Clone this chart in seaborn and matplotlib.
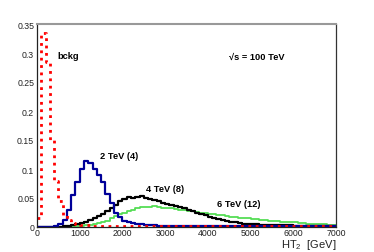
import numpy as np
import pandas as pd
import matplotlib
matplotlib.use("Agg")
import matplotlib.pyplot as plt
from matplotlib.ticker import MultipleLocator
import seaborn as sns

# ---- data (bin width 100 GeV, lower bin edges) ----
bin_edges = list(range(0, 7100, 100))
bckg = [0.015, 0.335, 0.285, 0.150, 0.080, 0.045, 0.020, 0.012, 0.007, 0.005,
        0.004, 0.003, 0.003, 0.002, 0.002, 0.002, 0.002, 0.001, 0.001, 0.001,
        0.001, 0.001, 0.001, 0.001, 0.001, 0.001, 0.001, 0.001, 0.001, 0.001,
        0.001, 0.001, 0.001, 0.001, 0.001, 0.001, 0.001, 0.001, 0.001, 0.001,
        0.001, 0.001, 0.001, 0.001, 0.001, 0.001, 0.001, 0.001, 0.001, 0.001,
        0.001, 0.001, 0.001, 0.001, 0.001, 0.001, 0.001, 0.001, 0.001, 0.001,
        0.001, 0.001, 0.001, 0.001, 0.001, 0.001, 0.001, 0.001, 0.001, 0.001]
tev2 = [0.000, 0.000, 0.000, 0.000, 0.001, 0.005, 0.012, 0.030, 0.055, 0.078,
        0.100, 0.113, 0.110, 0.100, 0.090, 0.077, 0.057, 0.042, 0.025, 0.017,
        0.011, 0.009, 0.007, 0.006, 0.005, 0.004, 0.003, 0.003, 0.002, 0.002,
        0.002, 0.001, 0.001, 0.001, 0.001, 0.001, 0.001, 0.001, 0.001, 0.001,
        0.001, 0.001, 0.001, 0.001, 0.001, 0.001, 0.001, 0.001, 0.001, 0.001,
        0.001, 0.001, 0.001, 0.001, 0.001, 0.001, 0.001, 0.001, 0.001, 0.001,
        0.001, 0.001, 0.001, 0.001, 0.001, 0.001, 0.001, 0.001, 0.001, 0.001]
tev4 = [0.000, 0.000, 0.000, 0.000, 0.000, 0.000, 0.001, 0.002, 0.003, 0.005,
        0.007, 0.009, 0.012, 0.015, 0.019, 0.023, 0.028, 0.033, 0.038, 0.044,
        0.049, 0.052, 0.050, 0.052, 0.053, 0.050, 0.048, 0.046, 0.044, 0.042,
        0.040, 0.038, 0.036, 0.034, 0.032, 0.030, 0.027, 0.025, 0.022, 0.020,
        0.018, 0.016, 0.014, 0.012, 0.010, 0.009, 0.008, 0.007, 0.006, 0.006,
        0.005, 0.005, 0.004, 0.004, 0.004, 0.003, 0.003, 0.003, 0.003, 0.003,
        0.002, 0.002, 0.002, 0.002, 0.002, 0.002, 0.002, 0.002, 0.002, 0.002]
tev6 = [0.000, 0.000, 0.000, 0.000, 0.000, 0.000, 0.000, 0.000, 0.000, 0.001,
        0.002, 0.003, 0.004, 0.005, 0.007, 0.009, 0.011, 0.016, 0.019, 0.022,
        0.025, 0.028, 0.030, 0.032, 0.034, 0.035, 0.035, 0.036, 0.034, 0.033,
        0.033, 0.032, 0.031, 0.030, 0.029, 0.028, 0.027, 0.026, 0.025, 0.024,
        0.023, 0.022, 0.021, 0.020, 0.019, 0.018, 0.017, 0.016, 0.016, 0.015,
        0.014, 0.013, 0.012, 0.012, 0.011, 0.010, 0.010, 0.009, 0.009, 0.008,
        0.008, 0.007, 0.007, 0.006, 0.006, 0.005, 0.005, 0.005, 0.004, 0.004]

sns.set_theme(style="white")
plt.rcParams['font.family'] = ['Liberation Sans', 'DejaVu Sans']
plt.rcParams['mathtext.default'] = 'regular'

fig = plt.figure(figsize=(3.74, 2.53), dpi=100)
ax = fig.add_axes([37/374, 25/253, (336-37)/374, (228-25)/253])

centers = [e + 50 for e in bin_edges[:-1]]
series = [
    (tev6, "#55dd55", "-", 1.3),
    (tev4, "black", "-", 1.6),
    (tev2, "#000099", "-", 1.6),
    (bckg, "#ff0000", ":", 2.0),
]
for vals, col, ls, lw in series:
    df = pd.DataFrame({"x": centers, "w": vals})
    sns.histplot(data=df, x="x", weights="w", binwidth=100,
                 binrange=(bin_edges[0], bin_edges[-1]), element="step",
                 fill=False, color=col, linestyle=ls, linewidth=lw, ax=ax)

ax.set_xlim(0, 7000)
ax.set_ylim(0, 0.35)
ax.xaxis.set_major_locator(MultipleLocator(1000))
ax.xaxis.set_minor_locator(MultipleLocator(200))
ax.yaxis.set_minor_locator(MultipleLocator(0.01))
ax.set_yticks([0, 0.05, 0.1, 0.15, 0.2, 0.25, 0.3, 0.35])
ax.set_yticklabels(["0", "0.05", "0.1", "0.15", "0.2", "0.25", "0.3", "0.35"])
ax.tick_params(axis="both", which="both", direction="in",
               labelsize=6.3, labelcolor="#222222")
ax.tick_params(axis="both", which="major", length=4, width=0.8, color="#777777")
ax.tick_params(axis="both", which="minor", length=2, width=0.6, color="#777777")
ax.tick_params(axis="x", pad=1)
ax.tick_params(axis="y", pad=2)
ax.set_ylabel("")
ax.set_xlabel("HT$_2$  [GeV]", fontsize=8, color="#222222")
ax.xaxis.set_label_coords(1.0, -0.1)
ax.xaxis.label.set_horizontalalignment("right")
ax.xaxis.label.set_verticalalignment("baseline")

for side in ["left", "bottom"]:
    ax.spines[side].set_color("#222222")
    ax.spines[side].set_linewidth(0.9)
ax.spines["top"].set_color("#999999")
ax.spines["top"].set_linewidth(1.5)
ax.spines["right"].set_color("#333333")
ax.spines["right"].set_linewidth(0.9)

tk = dict(fontsize=6.7, fontweight="bold", color="black", va="center", ha="left")
ax.text(485, 0.295, "bckg", **tk)
ax.text(4500, 0.295, "√s = 100 TeV", **tk)
ax.text(1470, 0.124, "2 TeV (4)", **tk)
ax.text(2545, 0.067, "4 TeV (8)", **tk)
ax.text(4215, 0.0397, "6 TeV (12)", **tk)

fig.savefig("out.png", dpi=100)
